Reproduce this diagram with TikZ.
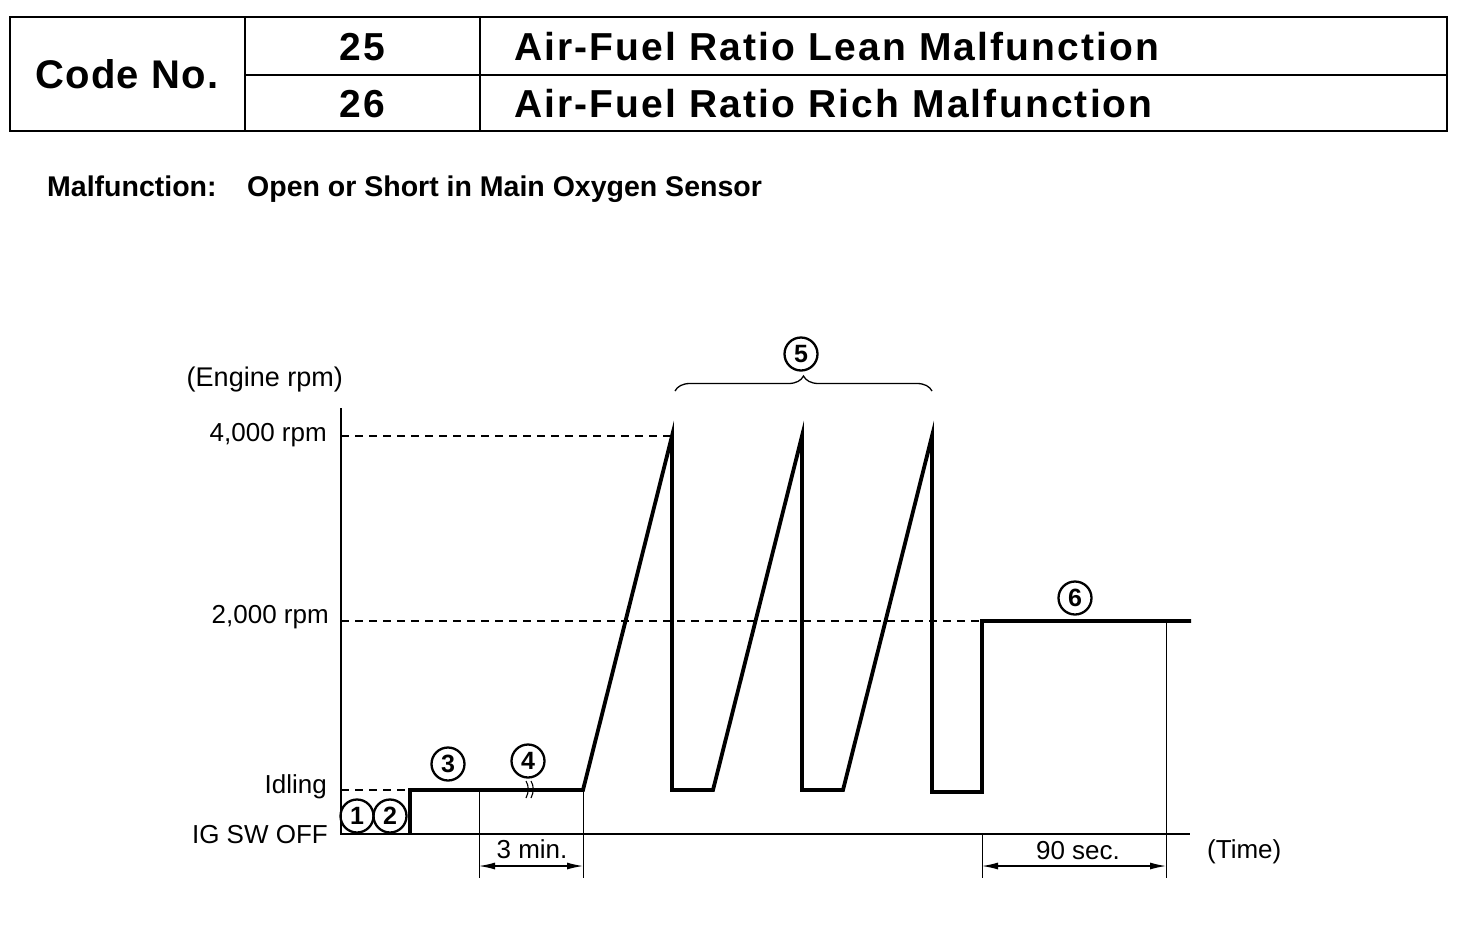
\documentclass[tikz,border=0pt]{standalone}
\usepackage{fontspec}
\setmainfont{Liberation Sans}
\usetikzlibrary{decorations.pathreplacing,arrows.meta}
\tikzset{
  hdr/.style={font=\fontsize{39}{39}\selectfont\bfseries\addfontfeature{LetterSpace=5.5}, inner sep=0},
  codehdr/.style={font=\fontsize{40}{40}\selectfont\bfseries\addfontfeature{LetterSpace=3}, inner sep=0},
  sub/.style={font=\fontsize{28.5}{28.5}\selectfont\bfseries, inner sep=0, anchor=base west},
  lbl/.style={font=\fontsize{26}{26}\selectfont, inner sep=0},
  circnum/.style={circle, draw, line width=2.3, inner sep=0, minimum size=33, font=\fontsize{25}{25}\selectfont\bfseries},
  frame/.style={line width=2},
  thin/.style={line width=1.4},
  curve/.style={line width=3.8, line join=miter},
  guide/.style={line width=1.2, dash pattern=on 8 off 6},
  dim/.style={line width=1.2, {Latex[length=16,width=7]}-{Latex[length=16,width=7]}}
}
\begin{document}
\begin{tikzpicture}[x=1pt,y=-1pt]
\useasboundingbox (0,0) rectangle (1472,932);
% header table
\draw[frame] (10,17) rectangle (1447,131);
\draw[frame] (245,17) -- (245,131);
\draw[frame] (480,17) -- (480,131);
\draw[frame] (245,75) -- (1447,75);
\node[codehdr] (code) at (127,74) {Code No.};
\node[hdr] (n25) at (362,47) {25};
\node[hdr] (n26) at (362,104) {26};
\node[hdr, anchor=west] (t25) at (514,47) {Air-Fuel Ratio Lean Malfunction};
\node[hdr, anchor=west] (t26) at (514,104) {Air-Fuel Ratio Rich Malfunction};
\node[sub] (mal) at (47,196) {Malfunction:};
\node[sub] (maltext) at (247,196) {Open or Short in Main Oxygen Sensor};

% axes
\coordinate (otop) at (341,408);
\coordinate (o) at (341,834);
\coordinate (xend) at (1190,834);
\draw[thin] (otop) -- (o) -- (xend);

% level labels
\node[lbl, anchor=east, font=\fontsize{27}{27}\selectfont] (lrpm) at (343,380) {(Engine rpm)};
\node[lbl, anchor=east] (l4000) at (327,435) {4,000 rpm};
\node[lbl, anchor=east] (l2000) at (329,617) {2,000 rpm};
\node[lbl, anchor=east] (lidle) at (327,787) {Idling};
\node[lbl, anchor=east] (loff) at (328,835) {IG SW OFF};

% guide lines
\coordinate (g4a) at (341,436);
\coordinate (g2a) at (341,621);
\coordinate (gia) at (341,790);
\draw[guide] (g4a) -- (672,436);
\draw[guide] (g2a) -- (982,621);
\draw[guide] (gia) -- (410,790);

% speed curve
\coordinate (p0) at (410,834);
\coordinate (p1) at (410,790);
\coordinate (p2) at (583,790);
\coordinate (p3) at (672,436);
\coordinate (p4) at (672,790);
\coordinate (p5) at (713,790);
\coordinate (p6) at (802,436);
\coordinate (p7) at (802,790);
\coordinate (p8) at (843,790);
\coordinate (p9) at (932,436);
\coordinate (p10) at (932,792);
\coordinate (p11) at (982,792);
\coordinate (p12) at (982,621);
\coordinate (p13) at (1191,621);
\draw[curve] (p0) -- (p1) -- (p2) -- (p3) -- (p4) -- (p5) -- (p6) -- (p7) -- (p8) -- (p9) -- (p10) -- (p11) -- (p12) -- (p13);

% break mark
\draw[line width=1.1] (526,781) .. controls (529,786) and (529,792) .. (526,798);
\draw[line width=1.1] (531,781) .. controls (534,786) and (534,792) .. (531,798);

% extension lines
\coordinate (e1) at (479,790);
\coordinate (e1b) at (479,878);
\coordinate (e2) at (583,790);
\coordinate (e2b) at (583,878);
\coordinate (e3) at (982,834);
\coordinate (e3b) at (982,878);
\coordinate (e4) at (1166,621);
\coordinate (e4b) at (1166,878);
\draw[line width=1] (e1) -- (e1b);
\draw[line width=1] (e2) -- (e2b);
\draw[line width=1] (e3) -- (e3b);
\draw[line width=1] (e4) -- (e4b);

% dimensions
\coordinate (d1a) at (479,866);
\coordinate (d1b) at (583,866);
\coordinate (d2a) at (982,866);
\coordinate (d2b) at (1166,866);
\draw[dim] (d1a) -- (d1b);
\draw[dim] (d2a) -- (d2b);
\node[lbl] (tmin) at (532,849) {3 min.};
\node[lbl] (tsec) at (1078,851) {90 sec.};
\node[lbl, anchor=west] (ttime) at (1207,852) {(Time)};

% circled numbers
\node[circnum] (c1) at (357,816) {1};
\node[circnum] (c2) at (390,816) {2};
\node[circnum] (c3) at (448,764) {3};
\node[circnum] (c4) at (528,761) {4};
\node[circnum] (c5) at (801,354) {5};
\node[circnum] (c6) at (1075,598) {6};

% brace
\coordinate (b1) at (675,391);
\coordinate (b2) at (932,391);
\draw[line width=1.3, decorate, decoration={brace, amplitude=15}] (b1) -- (b2);
\end{tikzpicture}
\end{document}
